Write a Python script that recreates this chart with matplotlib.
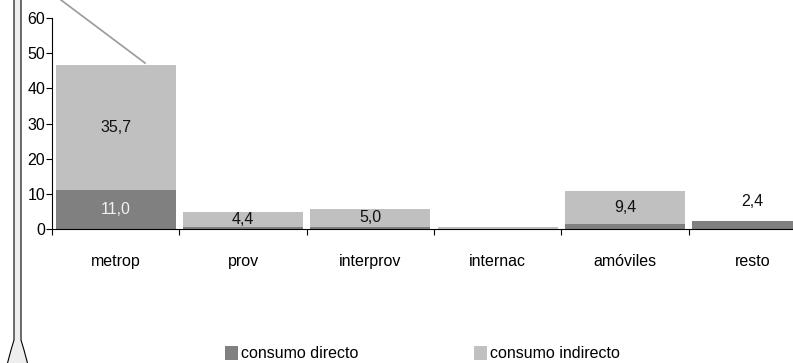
import matplotlib
matplotlib.use("Agg")
import matplotlib.pyplot as plt
from matplotlib.patches import Polygon, Rectangle
from matplotlib.lines import Line2D

categories = ["metrop", "prov", "interprov", "internac", "amóviles", "resto"]
directo = [11.0, 0.5, 0.7, 0.1, 1.4, 2.4]
indirecto = [35.7, 4.4, 5.0, 0.4, 9.4, 0.0]
label_directo = ["11,0", "", "", "", "", "2,4"]
label_indirecto = ["35,7", "4,4", "5,0", "", "9,4", ""]
yticks = [0, 10, 20, 30, 40, 50, 60]
legend_labels = ["consumo directo", "consumo indirecto"]

plt.rcParams['font.family'] = ['Liberation Sans', 'DejaVu Sans']

W, H = 793, 363
fig = plt.figure(figsize=(W/100, H/100), dpi=100)
x0, x1 = 52, 816
y0, y1 = 229, 18
ax = fig.add_axes([x0/W, (H-y0)/H, (x1-x0)/W, (y0-y1)/H])

dark = "#808080"
light = "#c0c0c0"
xs = list(range(len(categories)))
ax.bar(xs, directo, width=0.94, color=dark)
ax.bar(xs, indirecto, width=0.94, bottom=directo, color=light)

fs_lab = 11.5
for i in xs:
    if label_indirecto[i]:
        ax.text(i, directo[i] + indirecto[i]/2, label_indirecto[i], ha="center", va="center",
                fontsize=fs_lab, color="#111111")
    if label_directo[i]:
        if i == 0:
            ax.text(i, directo[i]/2, label_directo[i], ha="center", va="center",
                    fontsize=fs_lab, color="#f2f2f2")
        else:
            ax.text(i, directo[i] + 5.5, label_directo[i], ha="center", va="center",
                    fontsize=fs_lab, color="#111111")

ax.set_xlim(-0.5, len(categories) - 0.5)
ax.set_ylim(0, 60)
ax.set_yticks(yticks)
ax.set_yticklabels([str(v) for v in yticks], fontsize=11.5)
ax.set_xticks(xs)
ax.set_xticklabels(categories, fontsize=11.5)
ax.set_xticks([i - 0.5 for i in range(len(categories) + 1)], minor=True)
ax.tick_params(axis="x", which="major", length=0, pad=18)
ax.tick_params(axis="x", which="minor", length=4, direction="out", width=0.8)
ax.tick_params(axis="y", length=4, direction="out", width=0.8, pad=1)
for s in ["top", "right"]:
    ax.spines[s].set_visible(False)
ax.spines["left"].set_linewidth(0.8)
ax.spines["bottom"].set_linewidth(0.8)

# leader line at top-left
fig.add_artist(Line2D([61/W, 145/W], [(H-0)/H, (H-63)/H], color="#999999", lw=1.2))

# left bracket shape
pts = [(14, -2), (14, 340), (11, 350), (7, H+2), (28, H+2), (24, 350), (21, 340), (21, -2)]
fig.add_artist(Polygon([(px/W, (H-py)/H) for px, py in pts], closed=True,
                       facecolor="#eeeeee", edgecolor="black", lw=0.8,
                       transform=fig.transFigure))

# legend
for (sx, tx, col, lab) in [(225, 241, dark, legend_labels[0]), (474, 490, light, legend_labels[1])]:
    fig.add_artist(Rectangle((sx/W, (H-360)/H), 13/W, 14/H, facecolor=col,
                             edgecolor="none", transform=fig.transFigure))
    fig.text(tx/W, (H-353)/H, lab, fontsize=11.5, va="center", ha="left")

fig.savefig("out.png", dpi=100)
